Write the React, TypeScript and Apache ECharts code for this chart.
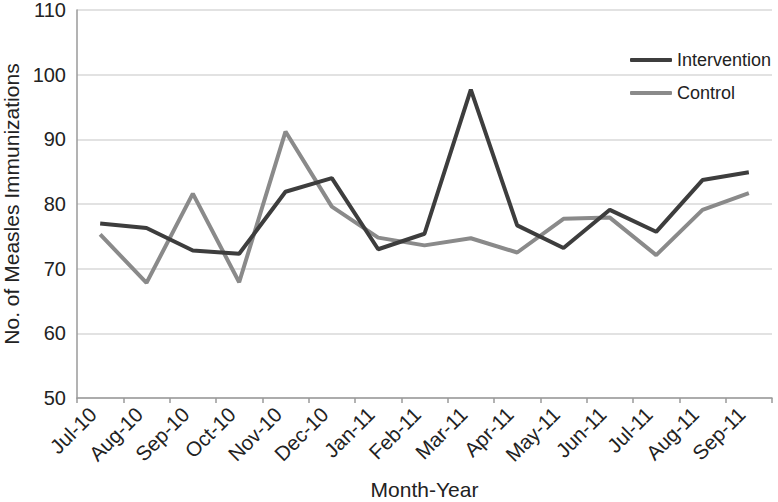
import React, { useEffect, useRef } from "react";
import * as echarts from "echarts";

const months = ["Jul-10", "Aug-10", "Sep-10", "Oct-10", "Nov-10", "Dec-10", "Jan-11", "Feb-11", "Mar-11", "Apr-11", "May-11", "Jun-11", "Jul-11", "Aug-11", "Sep-11"];
const intervention = [77.0, 76.3, 72.8, 72.3, 81.9, 84.0, 73.0, 75.4, 97.7, 76.7, 73.2, 79.1, 75.7, 83.7, 84.9];
const control = [75.3, 67.8, 81.6, 67.9, 91.2, 79.6, 74.8, 73.6, 74.7, 72.5, 77.7, 77.9, 72.1, 79.1, 81.7];

const FONT = "'Liberation Sans', Arial, sans-serif";
const TEXT = "#222222";

export default function App() {
  const ref = useRef<HTMLDivElement>(null);
  useEffect(() => {
    const chart = echarts.init(ref.current!, null, { renderer: "svg" });
    chart.setOption({
      animation: false,
      backgroundColor: "#ffffff",
      textStyle: { fontFamily: FONT, color: TEXT },
      grid: { left: 77, right: 6, top: 10, bottom: 104, containLabel: false, outerBoundsMode: "none" },
      legend: {
        orient: "vertical",
        left: 630,
        top: 50,
        padding: 0,
        itemWidth: 42,
        itemHeight: 4,
        itemGap: 13,
        icon: "roundRect",
        textStyle: { fontFamily: FONT, fontSize: 18, color: TEXT, lineHeight: 20 },
        data: ["Intervention", "Control"],
      },
      xAxis: {
        type: "category",
        data: months,
        boundaryGap: true,
        name: "Month-Year",
        nameLocation: "middle",
        nameGap: 82,
        nameTextStyle: { fontFamily: FONT, fontSize: 21, lineHeight: 18, color: TEXT },
        axisLine: { lineStyle: { color: "#9a9a9a", width: 1.5 } },
        axisTick: { show: true, length: 5, lineStyle: { color: "#9a9a9a", width: 1.5 } },
        axisLabel: {
          rotate: 45,
          fontSize: 20.5,
          color: TEXT,
          fontFamily: FONT,
          margin: 20,
          interval: 0,
          align: "right",
          verticalAlign: "bottom",
        },
        splitLine: { show: false },
      },
      yAxis: {
        type: "value",
        min: 50,
        max: 110,
        interval: 10,
        name: "No. of Measles Immunizations",
        nameLocation: "middle",
        nameGap: 47,
        nameTextStyle: { fontFamily: FONT, fontSize: 21, lineHeight: 18, color: TEXT },
        axisLine: { show: true, lineStyle: { color: "#9a9a9a", width: 1.5 } },
        axisTick: { show: false },
        axisLabel: { fontSize: 20, lineHeight: 16, color: TEXT, fontFamily: FONT, margin: 11 },
        splitLine: { show: true, lineStyle: { color: "#d9d9d9", width: 1.5 } },
      },
      series: [
        {
          name: "Intervention",
          type: "line",
          data: intervention,
          symbol: "none",
          color: "#3d3d3d",
          lineStyle: { width: 4, color: "#3d3d3d" },
          z: 3,
        },
        {
          name: "Control",
          type: "line",
          data: control,
          symbol: "none",
          color: "#8a8a8a",
          lineStyle: { width: 4, color: "#8a8a8a" },
          z: 2,
        },
      ],
    });
    return () => chart.dispose();
  }, []);
  return <div ref={ref} style={{ width: 778, height: 502, position: "absolute", left: 0, top: 0 }} />;
}
